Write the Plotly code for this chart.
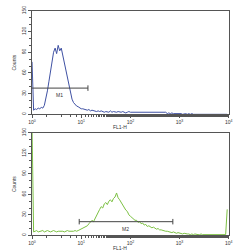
import plotly.graph_objects as go

channels = list(range(128))  # 32 channels per decade, 10^0 .. 10^4

counts_top = [76,
    6, 8, 7, 9, 8, 10, 9, 13,
    22, 34, 48, 62, 80, 90, 96, 88, 100, 92, 96, 85, 74, 62, 50, 40, 30, 22, 17, 14, 12, 11, 9, 8,
    8, 7, 7, 6, 7, 5, 6, 5, 5, 4, 5, 4, 5,
    4, 3, 4, 4, 3, 5, 3, 4, 3, 3, 4, 3, 3, 4, 3, 2, 3, 4, 3, 3, 2, 3, 3, 2, 3,
    3, 3, 2, 3, 2, 3, 3, 2, 3, 2, 3, 3, 2, 2, 2, 2, 3, 1, 2, 1, 2, 1, 1, 2, 1,
    1, 1, 0, 1, 1, 0, 1, 0, 1, 0, 0, 1, 0, 1, 0, 0, 1, 0, 0, 0, 1, 0, 0, 0, 0, 1, 0, 0, 0, 0, 0, 0]

counts_bottom = [160,
    5, 6, 7, 5, 6, 6, 7, 5, 6, 7, 6, 5, 6, 7, 6, 5, 6, 6, 7, 6, 5, 6, 7, 6, 6, 5, 6, 7, 6, 7, 8,
    9, 10, 11, 13, 14, 17, 19, 22, 20, 25, 30, 34, 38, 42, 40, 46, 48, 45, 50, 52, 49, 54, 56, 62,
    55, 52, 48, 46, 42, 37, 35, 30, 28, 26, 24, 22, 22, 19, 20, 17, 18, 15, 16, 13, 14, 12, 11, 12,
    10, 9, 10, 8, 8, 7, 7, 6, 6, 5, 5, 4, 5, 4, 3, 4, 3, 3, 2, 3, 2, 2, 2, 1, 2,
    1, 2, 1, 1, 1, 2, 1, 1, 1, 1, 2, 1, 1, 1, 1, 1, 1, 1, 1, 1, 1, 1,
    38]

gate_m1 = [1, 13.7]
gate_m1_level = 38
gate_m2 = [9.1, 730]
gate_m2_level = 20

x_tickvals = [1, 10, 100, 1000, 10000]
x_ticktext = ["10<sup>0</sup>", "10<sup>1</sup>", "10<sup>2</sup>", "10<sup>3</sup>", "10<sup>4</sup>"]
y_tickvals = [0, 30, 60, 90, 120, 150]
y_ticktext = ["0", "30", "60", "90", "120", "150"]

fl1 = [10 ** (c / 32) for c in channels]

BLUE = "#3f51a3"
GREEN = "#7cc043"
AX = "#555555"
FONT = "Liberation Sans"

fig = go.Figure()

fig.add_trace(go.Scatter(x=fl1, y=counts_top, mode="lines", line=dict(color=BLUE, width=1),
                         xaxis="x", yaxis="y", showlegend=False))
fig.add_trace(go.Scatter(x=fl1, y=counts_bottom, mode="lines", line=dict(color=GREEN, width=1),
                         xaxis="x2", yaxis="y2", showlegend=False))

cap = 4
fig.add_trace(go.Scatter(x=[gate_m1[0], gate_m1[1], None, gate_m1[1], gate_m1[1]],
                         y=[gate_m1_level, gate_m1_level, None, gate_m1_level - cap, gate_m1_level + cap],
                         mode="lines", line=dict(color="#444444", width=1), xaxis="x", yaxis="y",
                         showlegend=False))
fig.add_trace(go.Scatter(x=[gate_m2[0], gate_m2[1], None, gate_m2[0], gate_m2[0], None, gate_m2[1], gate_m2[1]],
                         y=[gate_m2_level, gate_m2_level, None, gate_m2_level - cap, gate_m2_level + cap, None,
                            gate_m2_level - cap, gate_m2_level + cap],
                         mode="lines", line=dict(color="#444444", width=1), xaxis="x2", yaxis="y2",
                         showlegend=False))

fig.add_annotation(x=0.55, y=gate_m1_level, xref="x", yref="y", text="M1", showarrow=False,
                   yshift=-7, font=dict(size=5, color="#333333", family=FONT))
fig.add_annotation(x=1.91, y=gate_m2_level, xref="x2", yref="y2", text="M2", showarrow=False,
                   yshift=-7, font=dict(size=5, color="#333333", family=FONT))

def xaxis(domain_anchor):
    return dict(type="log", range=[0, 4], domain=[0.115, 0.921], anchor=domain_anchor,
                tickvals=x_tickvals, ticktext=x_ticktext, ticks="outside", ticklen=3,
                tickcolor=AX, showline=True, linecolor=AX, linewidth=1, mirror=True,
                showgrid=False, zeroline=False,
                tickfont=dict(size=5, color="#333333", family=FONT),
                minor=dict(ticks="outside", ticklen=2, tickcolor=AX, showgrid=False))

def yaxis(domain, anchor):
    return dict(range=[0, 150], domain=domain, anchor=anchor,
                tickvals=y_tickvals, ticktext=y_ticktext, tickangle=-90,
                ticks="outside", ticklen=3, tickcolor=AX, showline=True, linecolor=AX,
                linewidth=1, mirror=True, showgrid=False, zeroline=False,
                tickfont=dict(size=5, color="#333333", family=FONT),
                title=dict(text="Counts", font=dict(size=5, color="#333333", family=FONT), standoff=4),
                minor=dict(ticks="outside", ticklen=2, tickcolor=AX, dtick=10, showgrid=False))

fig.update_layout(
    width=252, height=250,
    margin=dict(l=0, r=0, t=0, b=0),
    paper_bgcolor="white", plot_bgcolor="white",
    xaxis=xaxis("y"),
    yaxis=yaxis([0.552, 0.976], "x"),
    xaxis2=xaxis("y2"),
    yaxis2=yaxis([0.056, 0.476], "x2"),
)

fig.add_annotation(x=0.474, y=0.552, xref="paper", yref="paper", text="FL1-H", showarrow=False,
                   yanchor="top", yshift=-8, font=dict(size=5, color="#333333", family=FONT))
fig.add_annotation(x=0.474, y=0.056, xref="paper", yref="paper", text="FL1-H", showarrow=False,
                   yanchor="top", yshift=-8, font=dict(size=5, color="#333333", family=FONT))

fig.write_html("out.html")
